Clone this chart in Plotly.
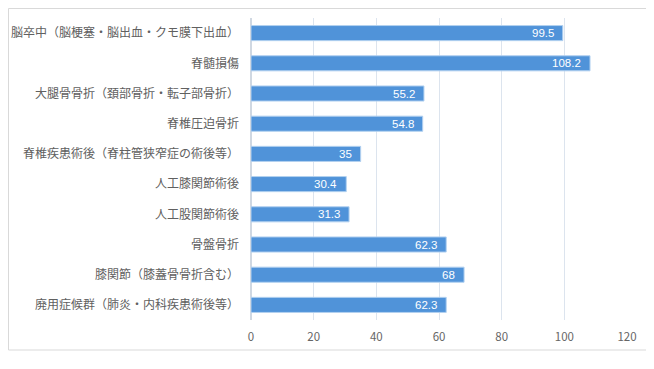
import plotly.graph_objects as go

categories = [
    "脳卒中（脳梗塞・脳出血・クモ膜下出血）",
    "脊髄損傷",
    "大腿骨骨折（頚部骨折・転子部骨折）",
    "脊椎圧迫骨折",
    "脊椎疾患術後（脊柱管狭窄症の術後等）",
    "人工膝関節術後",
    "人工股関節術後",
    "骨盤骨折",
    "膝関節（膝蓋骨骨折含む）",
    "廃用症候群（肺炎・内科疾患術後等）",
]
values = [99.5, 108.2, 55.2, 54.8, 35, 30.4, 31.3, 62.3, 68, 62.3]
value_labels = ["99.5", "108.2", "55.2", "54.8", "35", "30.4", "31.3", "62.3", "68", "62.3"]
x_ticks = [0, 20, 40, 60, 80, 100, 120]

OFF = 8  # page body margin
W, H = 654 - OFF, 369 - OFF
L, T = 251 - OFF, 18 - OFF
R = W - (627 - OFF)
B = H - (320 - OFF)
pw = W - L - R
ph = H - T - B

fig = go.Figure()
fig.add_trace(go.Bar(
    y=categories, x=values, orientation="h",
    marker=dict(color="#5093D9", line=dict(color="#B3D1F0", width=1)),
    textposition="none", hoverinfo="x+y",
))

for c, v, t in zip(categories, values, value_labels):
    fig.add_annotation(x=v, y=c, text=t, showarrow=False, xanchor="right",
                       xshift=-7, font=dict(color="white", size=11.5,
                                            family="Liberation Sans"))

fig.update_layout(
    width=W, height=H,
    margin=dict(l=L, r=R, t=T, b=B, autoexpand=False),
    plot_bgcolor="white", paper_bgcolor="white",
    bargap=0.5,
    showlegend=False,
    font=dict(family="Noto Sans CJK JP", color="#595959", size=12),
    xaxis=dict(range=[0, 120], tickvals=x_ticks, showgrid=True, gridcolor="#DCE4EE",
               gridwidth=1, zeroline=True, zerolinecolor="#D0D8E2", showline=False,
               ticks="", ticklabelstandoff=8, tickfont=dict(size=11.5, color="#666666")),
    yaxis=dict(autorange="reversed", showgrid=False, zeroline=False, showline=False,
               ticks="", ticklabelstandoff=11, tickfont=dict(size=12, color="#606060")),
    shapes=[dict(type="rect", xref="paper", yref="paper",
                 x0=(0.5 - L) / pw, x1=(650 - OFF - L) / pw,
                 y0=(H - B - (350 - OFF)) / ph, y1=(H - B - 0.5) / ph,
                 line=dict(color="#D9D9D9", width=1), layer="below")],
)

fig.write_html("out.html")
